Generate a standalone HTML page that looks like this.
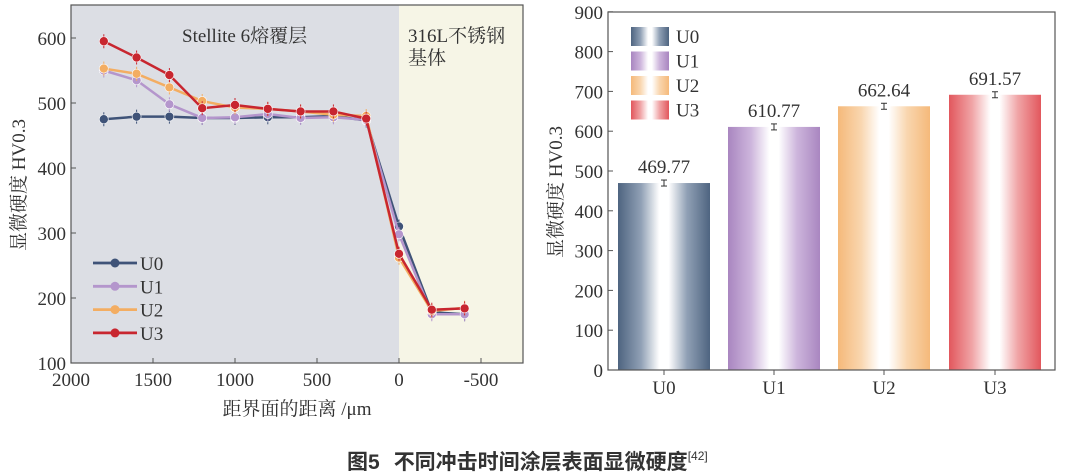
<!DOCTYPE html>
<html><head><meta charset="utf-8"><style>
body{margin:0;background:#fff;width:1068px;height:474px;overflow:hidden}
svg{position:absolute;left:0;top:0}
text{font-family:"Liberation Serif","Noto Serif CJK SC",serif;fill:#333}
</style></head><body>
<svg id="s" width="1068" height="474" viewBox="0 0 1068 474">
<defs>
<linearGradient id="g0"><stop offset="0" stop-color="#4e6480"/><stop offset=".25" stop-color="#90a0b5"/><stop offset=".45" stop-color="#fff"/><stop offset=".55" stop-color="#fff"/><stop offset=".75" stop-color="#90a0b5"/><stop offset="1" stop-color="#4e6480"/></linearGradient>
<linearGradient id="g1"><stop offset="0" stop-color="#a986c0"/><stop offset=".25" stop-color="#cdb5dc"/><stop offset=".45" stop-color="#fff"/><stop offset=".55" stop-color="#fff"/><stop offset=".75" stop-color="#cdb5dc"/><stop offset="1" stop-color="#a986c0"/></linearGradient>
<linearGradient id="g2"><stop offset="0" stop-color="#f5b97a"/><stop offset=".25" stop-color="#f9d6af"/><stop offset=".45" stop-color="#fff"/><stop offset=".55" stop-color="#fff"/><stop offset=".75" stop-color="#f9d6af"/><stop offset="1" stop-color="#f5b97a"/></linearGradient>
<linearGradient id="g3"><stop offset="0" stop-color="#e2575d"/><stop offset=".25" stop-color="#f0a4a6"/><stop offset=".45" stop-color="#fff"/><stop offset=".55" stop-color="#fff"/><stop offset=".75" stop-color="#f0a4a6"/><stop offset="1" stop-color="#e2575d"/></linearGradient>
</defs>
<rect x="71" y="5" width="328" height="358" fill="#dcdee4"/>
<rect x="399" y="5" width="124" height="358" fill="#f6f5e6"/>
<rect x="71" y="5" width="452" height="358" fill="none" stroke="#555" stroke-width="1.2"/>
<text x="182" y="42" font-size="19">Stellite 6熔覆层</text>
<text x="408" y="42" font-size="19">316L不锈钢</text>
<text x="408" y="64" font-size="19">基体</text>
<g id="L"></g>
<text transform="translate(25,185) rotate(-90)" font-size="19" text-anchor="middle">显微硬度 HV0.3</text>
<text x="297" y="415" font-size="19" text-anchor="middle">距界面的距离 /μm</text>
<g id="R"></g>
<rect x="608" y="12" width="447" height="358" fill="none" stroke="#555" stroke-width="1.2"/>
<text transform="translate(562,192) rotate(-90)" font-size="19" text-anchor="middle">显微硬度 HV0.3</text>
<text x="347" y="469" font-size="21" font-weight="bold" style="font-family:'Liberation Sans','Noto Sans CJK SC',sans-serif" fill="#222">图5<tspan dx="14">不同冲击时间涂层表面显微硬度</tspan><tspan font-size="12" font-weight="normal" dy="-9">[42]</tspan></text>
</svg>
<script>
var ns="http://www.w3.org/2000/svg";
function el(p,t,a,txt){var e=document.createElementNS(ns,t);for(var k in a)e.setAttribute(k,a[k]);if(txt!=null)e.textContent=txt;p.appendChild(e);return e;}
var L=document.getElementById("L"),R=document.getElementById("R");
function X(v){return 399-0.164*v}function Y(v){return 363-(v-100)*0.65}
for(var v=100;v<=600;v+=100){el(L,"line",{x1:71,x2:76,y1:Y(v),y2:Y(v),stroke:"#555"});el(L,"text",{x:66,y:Y(v)+7,"font-size":19,"text-anchor":"end"},v);}
[2000,1500,1000,500,0,-500].forEach(function(v){el(L,"line",{x1:X(v),x2:X(v),y1:363,y2:358,stroke:"#555"});el(L,"text",{x:X(v),y:386,"font-size":19,"text-anchor":"middle"},v);});
var xs=[1800,1600,1400,1200,1000,800,600,400,200,0,-200,-400];
var D=[[475,479,479,477,477,478,478,480,473,310,178,175],[550,535,498,477,478,483,477,478,474,298,175,175],[553,545,524,503,493,491,487,482,480,262,180,185],[595,570,543,492,497,491,487,487,476,268,182,184]];
var C=["#3f5378","#b496cc","#f3ad62","#c8262f"];
D.forEach(function(d,i){var p=d.map(function(v,j){return X(xs[j])+","+Y(v)}).join(" ");
el(L,"polyline",{points:p,fill:"none",stroke:C[i],"stroke-width":2.5});
d.forEach(function(v,j){el(L,"line",{x1:X(xs[j]),x2:X(xs[j]),y1:Y(v)-7,y2:Y(v)+7,stroke:C[i],"stroke-width":1});el(L,"circle",{cx:X(xs[j]),cy:Y(v),r:4.5,fill:C[i],stroke:"#fff","stroke-width":0.6});});
var ly=263+i*23.3;el(L,"line",{x1:93,x2:137,y1:ly,y2:ly,stroke:C[i],"stroke-width":2.8});el(L,"circle",{cx:115,cy:ly,r:4.5,fill:C[i]});el(L,"text",{x:140,y:ly+7,"font-size":19},"U"+i);});
function Yr(v){return 370-v*0.398}
for(var v=0;v<=900;v+=100){el(R,"line",{x1:608,x2:613,y1:Yr(v),y2:Yr(v),stroke:"#555"});el(R,"text",{x:603,y:Yr(v)+7,"font-size":19,"text-anchor":"end"},v);}
var vals=[469.77,610.77,662.64,691.57],cx=[664,774,884,995],lc=["#333","#888","#a89a70","#8a4a4a"];
vals.forEach(function(v,i){el(R,"rect",{x:cx[i]-46,y:Yr(v),width:92,height:370-Yr(v),fill:"url(#g"+i+")"});
el(R,"line",{x1:cx[i],x2:cx[i],y1:Yr(v)-3,y2:Yr(v)+3,stroke:"#333"});el(R,"line",{x1:cx[i]-3,x2:cx[i]+3,y1:Yr(v)-3,y2:Yr(v)-3,stroke:"#333"});el(R,"line",{x1:cx[i]-3,x2:cx[i]+3,y1:Yr(v)+3,y2:Yr(v)+3,stroke:"#333"});
el(R,"text",{x:cx[i],y:Yr(v)-10,"font-size":19,"text-anchor":"middle",fill:lc[i]},v.toFixed(2));
el(R,"line",{x1:cx[i],x2:cx[i],y1:370,y2:375,stroke:"#555"});el(R,"text",{x:cx[i],y:394,"font-size":19,"text-anchor":"middle"},"U"+i);
var ly=36+i*24.5;el(R,"rect",{x:631,y:ly-9,width:38,height:19,fill:"url(#g"+i+")"});el(R,"text",{x:676,y:ly+7,"font-size":19},"U"+i);});
</script>
</body></html>
